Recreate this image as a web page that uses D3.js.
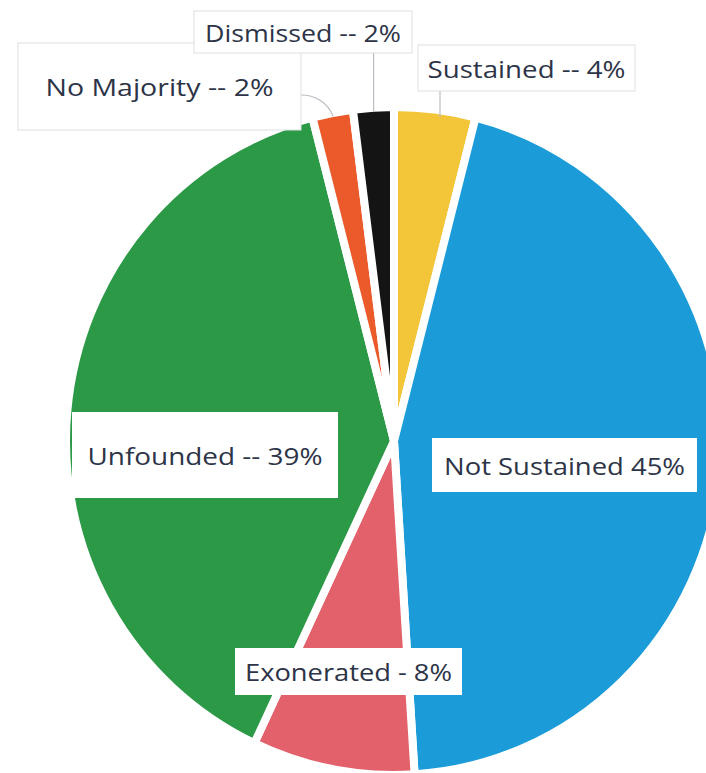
<!DOCTYPE html>
<html>
<head>
<meta charset="utf-8">
<script src="https://cdn.jsdelivr.net/npm/d3@7"></script>
<style>
  body { margin: 0; background: #fff; }
  svg { display: block; }
</style>
</head>
<body>
<div class="chart"></div>
<script>
var categories = ['Sustained', 'Not Sustained', 'Exonerated', 'Unfounded', 'No Majority', 'Dismissed'];
var values = [4, 45, 8, 39, 2, 2];
var labels = ['Sustained -- 4%', 'Not Sustained 45%', 'Exonerated - 8%', 'Unfounded -- 39%', 'No Majority -- 2%', 'Dismissed -- 2%'];
var colors = ['#f3c63a', '#1b9bd8', '#e2616b', '#2c9947', '#ea5a2b', '#141414'];

const width = 706;
const height = 773;
// the scanned pie is a little taller than wide
const cx = 394, cy = 441, rx = 328, ry = 334;

// label boxes (layout only)
var boxes = {
  'Sustained':     {x: 418, y: 45,  w: 217, h: 46, tw: 198, line: true},
  'Not Sustained': {x: 432, y: 438, w: 265, h: 54, tw: 241, line: false},
  'Exonerated':    {x: 235, y: 648, w: 227, h: 47, tw: 207, line: false},
  'Unfounded':     {x: 72,  y: 412, w: 266, h: 86, tw: 235, line: false},
  'No Majority':   {x: 18,  y: 43,  w: 283, h: 87, tw: 228, line: true},
  'Dismissed':     {x: 194, y: 11,  w: 218, h: 42, tw: 196, line: true}
};

var svg = d3.select('.chart')
  .append('svg')
    .attr('width', width)
    .attr('height', height);

var data = categories.map((c, i) => ({name: c, value: values[i], label: labels[i], color: colors[i]}));

var pie = d3.pie()
  .sort(null)
  .value(d => d.value);

var arc = d3.arc()
  .innerRadius(0)
  .outerRadius(rx);

var arcs = pie(data);

var g = svg.append('g')
  .attr('transform', `translate(${cx}, ${cy}) scale(1, ${ry / rx})`);

g.selectAll('path.slice')
  .data(arcs)
  .enter()
  .append('path')
    .attr('class', 'slice')
    .attr('d', arc)
    .attr('fill', d => d.data.color)
    .attr('stroke', '#fff')
    .attr('stroke-width', 8)
    .attr('stroke-linejoin', 'round');

// leader lines for the small top slices
function edgePoint(d, k) {
  var a = (d.startAngle + d.endAngle) / 2;
  return [cx + k * rx * Math.sin(a), cy - k * ry * Math.cos(a)];
}

var leaders = svg.append('g')
  .attr('fill', 'none')
  .attr('stroke', '#b9bdc4')
  .attr('stroke-width', 1.2);

arcs.forEach(function (d) {
  var b = boxes[d.data.name];
  if (!b.line) return;
  var p = edgePoint(d, 0.99);
  if (d.data.name === 'Dismissed') {
    leaders.append('path').attr('d', `M${p[0]},${b.y + b.h} L${p[0]},${p[1]}`);
  } else if (d.data.name === 'No Majority') {
    var sx = b.x + b.w, sy = b.y + 52;
    leaders.append('path')
      .attr('d', `M${sx},${sy} C${sx + 14},${sy} ${p[0] - 6},${p[1] - 14} ${p[0]},${p[1]}`);
  } else {
    leaders.append('path').attr('d', `M${b.x + 22},${b.y + b.h} L${b.x + 22},${p[1] + 4}`);
  }
});

var lab = svg.selectAll('g.label')
  .data(arcs)
  .enter()
  .append('g')
    .attr('class', 'label');

lab.append('rect')
  .attr('x', d => boxes[d.data.name].x)
  .attr('y', d => boxes[d.data.name].y)
  .attr('width', d => boxes[d.data.name].w)
  .attr('height', d => boxes[d.data.name].h)
  .attr('fill', '#fff')
  .attr('stroke', d => boxes[d.data.name].line ? '#dcdfe3' : 'none')
  .attr('stroke-width', 1);

lab.append('text')
  .attr('x', d => boxes[d.data.name].x + boxes[d.data.name].w / 2)
  .attr('y', d => boxes[d.data.name].y + boxes[d.data.name].h / 2)
  .attr('text-anchor', 'middle')
  .attr('dominant-baseline', 'central')
  .attr('textLength', d => boxes[d.data.name].tw)
  .attr('lengthAdjust', 'spacingAndGlyphs')
  .style('font-family', '"Open Sans", "Noto Sans", sans-serif')
  .style('font-size', '24px')
  .style('fill', '#2d3447')
  .text(d => d.data.label);
</script>
</body>
</html>
